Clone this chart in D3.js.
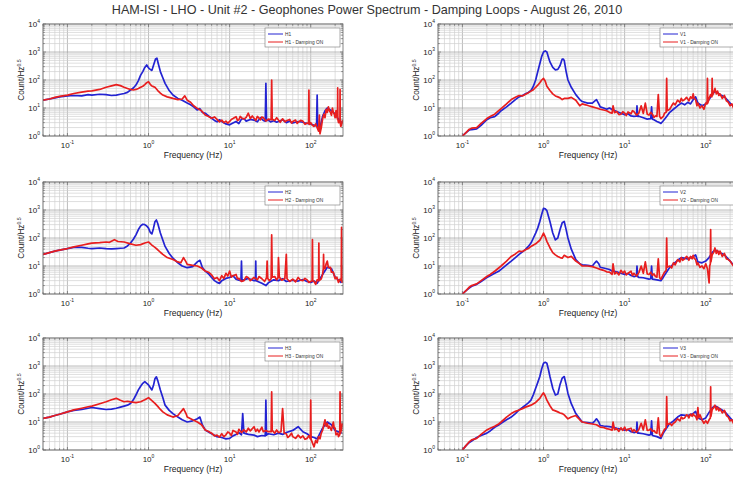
<!DOCTYPE html>
<html>
<head>
<meta charset="utf-8">
<script src="https://cdn.jsdelivr.net/npm/d3@7"></script>
<style>
  body { margin: 0; background: #fff; }
  svg { display: block; font-family: "Liberation Sans", Arial, sans-serif; }
</style>
</head>
<body>
<svg id="chart" width="733" height="479"></svg>
<script>
var chartTitle = "HAM-ISI - LHO - Unit #2 - Geophones Power Spectrum - Damping Loops - August 26, 2010";
var xTicks = [ 0.1, 1, 10, 100 ];
var yTicks = [ 1, 10, 100, 1000, 10000 ];
var xDomain = [ 0.05, 250 ];
var yDomain = [ 1, 10000 ];

// [frequency Hz, counts/Hz^0.5]
var h1 = [[0.05,19],[0.06,21],[0.07,23],[0.08,25],[0.1,27],[0.12,28],[0.15,27],[0.18,30],[0.2,29],[0.25,31],[0.3,30],[0.35,28],[0.4,29],[0.45,31],[0.5,33],[0.55,36],[0.6,44],[0.65,52],[0.7,66],[0.75,95],[0.8,150],[0.85,200],[0.9,280],[0.95,345],[1.0,270],[1.05,240],[1.1,220],[1.15,330],[1.22,560],[1.27,600],[1.32,380],[1.4,200],[1.5,120],[1.6,76],[1.8,42],[2.0,29],[2.3,22],[2.6,19],[3.0,15],[3.3,13],[3.6,11],[4.0,8.5],[4.3,9.5],[4.6,7],[5.0,6.5],[5.5,5.2],[6.0,4.3],[6.5,3.6],[7,3.2],[7.5,3.8],[8,3.3],[9,2.7],[10,2.5],[11,2.9],[12,3.3],[13,2.8],[14,4],[15,4.2],[16,3.4],[18,3.9],[20,3.7],[22,3.2],[24,4.5],[26,3.6],[27.5,3.4],[28,76],[28.5,3.6],[30,3.7],[32,3.2],[35,3.5],[38,3.1],[40,3.3],[45,3.8],[50,3.0],[55,3.4],[60,2.9],[70,3.3],[80,3.1],[90,2.8],[100,2.7],[110,2.4],[118,2.3],[120,29],[122,2.2],[130,2.0],[140,5],[150,8],[160,10],[180,8],[200,6],[220,4],[240,3]];
var h1Damped = [[0.05,19],[0.06,21],[0.07,24],[0.08,26],[0.1,29],[0.12,33],[0.15,37],[0.18,40],[0.2,41],[0.25,46],[0.3,55],[0.35,62],[0.4,68],[0.45,63],[0.5,55],[0.55,50],[0.6,46],[0.65,44],[0.7,46],[0.75,50],[0.8,55],[0.85,60],[0.9,68],[0.95,80],[1.0,87],[1.05,70],[1.1,61],[1.15,58],[1.2,55],[1.3,42],[1.4,34],[1.5,29],[1.7,25],[2.0,22],[2.3,20],[2.6,21],[2.8,27],[3.0,19],[3.3,16],[3.6,12],[4.0,9.7],[4.5,8],[5.0,5.6],[5.5,5],[6,4.3],[6.5,4.8],[7,3.9],[7.5,3.2],[8,3.7],[8.5,3.0],[9,3.4],[9.5,2.9],[10,3.3],[10.5,3.9],[11,4.2],[12,4.9],[12.5,3.6],[13,3.8],[13.5,5],[14,4.5],[15,4.0],[16,4.6],[17,6.5],[18,4.2],[19,5.2],[20,4.3],[21,3.6],[22,5],[24,3.8],[25,4.8],[26,4.6],[28,3.4],[30,4.0],[32.5,3.8],[33,100],[33.5,4],[36,3.6],[38,4.5],[40,3.7],[42,3.1],[45,4.1],[48,3.2],[50,3.5],[55,3.9],[58,2.9],[60,3.3],[65,3.7],[68,2.8],[70,3.1],[75,3.6],[80,3.4],[85,2.6],[90,2.9],[94,2.8],[95,44],[96,2.6],[100,3.0],[105,2.4],[110,2.2],[115,2.7],[120,2.0],[125,1.5],[128,5.6],[130,1.2],[135,2.0],[140,4],[145,6],[150,4.5],[155,9],[160,7],[165,11],[170,8],[175,7],[180,5.5],[185,10],[190,7],[195,6],[200,4.5],[205,8],[210,5],[214,4],[215,52],[216,4],[220,3],[225,3.5],[229,3],[230,46],[231,3],[235,2.2],[240,2.5],[245,3.5],[250,2.8]];

var h2 = [[0.05,26],[0.06,30],[0.07,34],[0.08,37],[0.1,42],[0.12,46],[0.15,46],[0.18,43],[0.2,42],[0.25,44],[0.3,42],[0.35,41],[0.4,42],[0.45,43],[0.5,44],[0.55,52],[0.6,66],[0.65,90],[0.7,130],[0.75,200],[0.8,270],[0.85,310],[0.9,300],[0.95,270],[1.0,225],[1.05,160],[1.1,140],[1.15,220],[1.2,380],[1.25,440],[1.3,330],[1.4,150],[1.5,85],[1.6,50],[1.8,28],[2.0,19],[2.3,13],[2.6,10],[3.0,8.7],[3.5,9.5],[4.0,14],[4.3,16],[4.6,9],[5.0,6.6],[5.5,5.2],[6,3.9],[6.5,3],[7,2.6],[7.5,2.4],[8,3],[9,3.6],[10,3.9],[11,4.5],[12,3.4],[13,3.1],[13.8,3],[14,15],[14.2,3],[15,3.2],[17,3.6],[20,3],[20.8,3],[21,15],[21.2,3],[23,2.7],[25,2.4],[28,2.0],[30,2.5],[35,3.2],[40,3.0],[45,3.5],[50,2.8],[60,3.1],[70,2.9],[80,3.3],[90,2.8],[100,2.6],[110,2.9],[120,2.4],[140,5],[160,9],[180,8],[200,4],[240,2.5]];
var h2Damped = [[0.05,26],[0.06,30],[0.07,34],[0.08,37],[0.1,42],[0.12,48],[0.15,55],[0.18,62],[0.2,66],[0.25,68],[0.3,72],[0.33,70],[0.38,87],[0.42,75],[0.5,72],[0.6,62],[0.7,55],[0.8,58],[0.9,66],[1.0,72],[1.1,56],[1.2,46],[1.3,38],[1.4,31],[1.5,26],[1.7,20],[2.0,17],[2.3,14],[2.5,13],[2.7,20],[2.9,14],[3.0,11.5],[3.5,10.5],[4.0,10],[4.5,8.5],[5.0,6.6],[5.5,6],[6,4.8],[6.5,3.5],[7,3.9],[7.5,3.0],[8,4.5],[8.5,3.6],[9,5.5],[9.5,4.4],[10,6.6],[10.5,4],[11,4.5],[12,5],[12.5,3.5],[13,3.6],[14,2.8],[15,3],[16,4.2],[17,3.8],[18,3.0],[20,3.9],[22,3.2],[23,4.2],[25,3.5],[27,2.8],[28.5,3.8],[29,15],[29.5,3.6],[31,3.0],[32.5,3.5],[33,130],[33.5,4],[36,4.2],[38,3.2],[39.5,3.8],[40,20],[41,4],[44,3.1],[48,3.6],[50,26],[51,3.5],[55,2.8],[60,3.4],[65,2.7],[70,3.9],[75,3.1],[80,3.0],[85,3.6],[90,3.2],[95,2.6],[104,3],[105,87],[106,3],[110,2.8],[115,2.2],[120,3.2],[125,3],[126,66],[127,3],[135,3.5],[140,5],[143,8],[144,26],[145,8],[150,8],[155,12],[160,15],[165,9],[175,9],[180,6],[190,6],[200,3.5],[210,4],[220,2.6],[230,3.4],[238,3],[240,240],[242,3],[245,2.5]];

var h3 = [[0.05,13.5],[0.06,15],[0.07,17],[0.08,19],[0.1,23],[0.12,26],[0.15,28],[0.18,31],[0.2,33],[0.25,30],[0.3,28],[0.35,29],[0.4,31],[0.45,34],[0.5,37],[0.55,40],[0.6,46],[0.65,62],[0.7,92],[0.75,140],[0.8,190],[0.85,240],[0.9,275],[0.95,240],[1.0,210],[1.05,170],[1.1,140],[1.15,200],[1.2,350],[1.25,410],[1.3,300],[1.4,140],[1.5,75],[1.6,40],[1.8,26],[2.0,20],[2.3,15],[2.6,12],[3.0,10],[3.5,11],[4.0,13],[4.3,15],[4.6,8],[5.0,5.2],[5.5,4.4],[6,3.8],[7,3.0],[8,2.8],[9,2.5],[10,2.6],[11,3.2],[12,3.6],[13,4.2],[14,3.5],[14.5,20],[15,4],[17,3.6],[20,3.4],[22,3],[25,3.3],[27.5,3.2],[28,60],[28.5,3.4],[30,3.8],[35,3.5],[40,4],[45,3.6],[50,4.2],[60,5],[70,6.8],[80,4.5],[90,3.8],[100,3],[110,2.8],[120,2.5],[140,6],[160,10],[180,8],[200,5],[240,4]];
var h3Damped = [[0.05,13.5],[0.06,15],[0.07,17],[0.08,19],[0.1,23],[0.12,27],[0.15,31],[0.18,35],[0.2,37],[0.25,45],[0.3,53],[0.35,62],[0.4,70],[0.45,60],[0.5,53],[0.55,55],[0.6,52],[0.7,49],[0.8,53],[0.9,62],[1.0,74],[1.1,58],[1.2,46],[1.3,36],[1.4,28],[1.5,23],[1.7,18],[2.0,15],[2.3,17],[2.7,30],[2.9,20],[3.0,15],[3.5,12],[4.0,10],[4.5,8],[5.0,5.2],[5.5,4.6],[6,4.0],[6.5,3.2],[7,3.4],[7.5,2.9],[8,3.8],[8.5,3.0],[9,3.5],[9.5,4.4],[10,4],[10.5,3.3],[11,5],[12,4.4],[12.5,3.6],[13,5.5],[14,4.2],[15,5.2],[16,4.4],[17,6],[18,4.8],[20,6.8],[21,4.6],[22,5.5],[23,4.4],[25,6.5],[26,4.5],[28,5],[30,4.5],[32.5,4.5],[33,120],[33.5,5],[36,4],[38,5.2],[40,4.2],[43,4.5],[45,30],[47,4],[50,3.8],[52,2.8],[55,3.2],[58,4],[60,3.0],[65,2.6],[70,3.4],[75,2.7],[80,3.2],[85,2.4],[90,2.6],[95,3.2],[99,2.5],[100,60],[101,2.4],[105,1.8],[110,1.3],[115,2.2],[120,1.8],[125,3],[130,2.5],[135,4],[140,5],[145,8],[150,12],[155,7],[160,9],[165,6],[170,7],[180,5],[190,10],[195,6],[200,6],[205,3.5],[215,4],[220,3],[228,3.5],[230,120],[232,4],[238,5],[245,9]];

var v1 = [[0.1,1.0],[0.11,1.3],[0.12,1.6],[0.13,1.7],[0.15,1.8],[0.17,2.4],[0.2,3.8],[0.22,4.5],[0.25,4.9],[0.28,6.5],[0.3,8],[0.35,11],[0.4,15],[0.45,20],[0.5,25],[0.55,28],[0.6,32],[0.65,36],[0.7,42],[0.75,60],[0.8,100],[0.85,200],[0.9,380],[0.95,700],[1.0,1000],[1.05,1100],[1.1,1000],[1.15,650],[1.2,440],[1.3,280],[1.4,230],[1.5,240],[1.6,330],[1.7,560],[1.75,560],[1.8,500],[1.9,200],[2.0,100],[2.2,55],[2.5,30],[2.8,20],[3.0,17],[3.5,15],[4.0,15],[4.3,18],[4.5,20],[4.8,14],[5,11],[5.5,10],[6,9],[6.5,10],[7,8.8],[8,7.5],[9,6.5],[10,5.8],[11,6.2],[12,5.2],[13,5],[14,5.1],[14.2,12],[14.5,5],[15,5.1],[17,4.5],[19,4],[21,4.2],[21.5,11],[22,4],[23,3.8],[25,3.3],[27,3.0],[28,2.8],[30,3.5],[33,5],[36,7],[40,9],[45,12],[50,15],[55,13],[60,16],[65,14],[70,20],[75,25],[80,15],[90,12],[100,14],[110,20],[120,30],[130,40],[140,35],[150,30],[170,25],[200,15],[240,9]];
var v1Damped = [[0.1,1.0],[0.11,1.3],[0.12,1.7],[0.13,1.9],[0.15,2.0],[0.17,2.8],[0.2,4.2],[0.22,5],[0.25,6],[0.28,8],[0.3,9.5],[0.35,14],[0.4,20],[0.45,24],[0.5,28],[0.55,27],[0.6,31],[0.65,35],[0.7,40],[0.75,45],[0.8,55],[0.85,65],[0.9,80],[0.95,100],[1.0,115],[1.05,90],[1.1,60],[1.2,42],[1.3,32],[1.4,27],[1.5,25],[1.6,23],[1.7,20],[1.8,22],[2.0,22],[2.2,24],[2.5,19],[2.8,12],[3.0,14],[3.3,13],[3.6,12],[4,11],[4.5,10],[5,9],[5.5,8.5],[6,8],[6.5,7],[7,6.5],[7.2,12],[7.5,6.8],[8,7.5],[8.5,5.8],[9,6],[9.5,7.4],[10,6.6],[10.5,5.4],[11,7.2],[12,6.2],[12.5,8],[13,7.5],[14,5.6],[15,6.6],[16,12],[17,6.4],[18,15],[19,6],[20,5.6],[21,7],[22,6],[23,4.6],[24,5.2],[25,5],[26,30],[27,5],[28,4.2],[30,5],[31,6.5],[32.5,7],[33,115],[33.5,8],[36,9],[38,12],[40,15],[42,13],[45,19],[48,16],[50,22],[52,18],[55,20],[58,24],[60,21],[62,18],[65,25],[68,22],[70,32],[72,22],[75,20],[78,12],[80,15],[85,10],[90,12],[95,9],[100,15],[104,14],[105,115],[106,15],[110,22],[115,30],[119,25],[120,115],[121,28],[125,35],[130,50],[135,32],[140,40],[145,28],[150,32],[160,22],[170,28],[180,18],[190,16],[200,12],[210,14],[220,10],[235,9],[250,8]];

var v2 = [[0.1,1.0],[0.11,1.3],[0.12,1.6],[0.13,1.9],[0.15,2.2],[0.17,2.8],[0.2,3.9],[0.22,4.5],[0.25,5.5],[0.28,6.5],[0.3,7.6],[0.35,11],[0.4,15],[0.45,20],[0.5,26],[0.55,32],[0.6,39],[0.65,50],[0.7,66],[0.75,100],[0.8,150],[0.85,230],[0.9,390],[0.95,700],[1.0,1150],[1.05,1100],[1.1,950],[1.15,600],[1.2,390],[1.3,150],[1.4,86],[1.5,100],[1.6,200],[1.7,350],[1.8,390],[1.9,200],[2.0,100],[2.2,40],[2.5,17],[2.8,12],[3.0,11],[3.5,10.5],[4.0,10],[4.3,13],[4.5,15],[4.8,12],[5,9],[5.5,8.5],[6,8],[6.5,7.5],[7,6.6],[8,6.2],[9,5.5],[10,5],[11,5.4],[12,4.6],[13,4.2],[14,4.4],[14.2,10],[14.5,4.2],[15,3.9],[17,3.8],[20,3.4],[21,3.5],[21.5,10],[22,3.4],[25,3.2],[28,3],[30,4],[35,8],[40,12],[45,16],[50,20],[60,18],[70,22],[75,25],[80,14],[90,13],[100,15],[110,20],[120,30],[130,38],[150,30],[170,25],[200,15],[240,8]];
var v2Damped = [[0.1,1.0],[0.11,1.3],[0.12,1.7],[0.13,2.0],[0.15,2.3],[0.17,3.0],[0.2,4.2],[0.22,5],[0.25,6.5],[0.28,8.5],[0.3,10],[0.35,15],[0.4,22],[0.45,27],[0.5,34],[0.55,33],[0.6,38],[0.65,42],[0.7,50],[0.8,62],[0.9,83],[0.95,110],[1.0,150],[1.05,110],[1.1,76],[1.2,45],[1.3,30],[1.4,25],[1.5,22],[1.6,20],[1.7,19],[1.8,24],[2.0,20],[2.2,22],[2.5,15],[2.8,12],[3.0,10],[3.5,10],[4,9.5],[4.5,8.5],[5,7.6],[5.5,7],[6,6.2],[6.5,6],[7,5],[7.2,12],[7.5,5.2],[8,6],[8.5,4.8],[9,7],[9.5,5.6],[10,6.6],[10.5,4.8],[11,5.5],[12,6.5],[12.5,4.6],[13,5.5],[14,4.4],[15,5.8],[16,10],[17,5.5],[18,14],[19,5.2],[20,5],[21,6],[22,4.6],[23,5.2],[24,4.2],[25,4],[26,18],[27,3.8],[28,3.4],[30,5],[31,6],[32.5,7],[33,100],[33.5,9],[36,10],[38,8.5],[40,13],[42,11],[45,17],[48,14],[50,20],[52,16],[55,18],[58,22],[60,20],[62,16],[65,22],[68,18],[70,24],[72,19],[75,17],[78,11],[80,13],[85,9],[90,10],[95,8],[100,12],[105,8],[110,2.5],[112,10],[114,12],[115,200],[116,14],[120,25],[125,30],[130,44],[135,28],[140,36],[145,26],[150,34],[160,22],[170,28],[180,18],[190,17],[200,15],[210,12],[220,10],[235,8],[250,7]];

var v3 = [[0.1,1.0],[0.11,1.4],[0.12,1.8],[0.13,2.1],[0.15,2.8],[0.17,3.3],[0.2,4],[0.22,4.8],[0.25,6.5],[0.28,7.8],[0.3,9],[0.35,12],[0.4,15],[0.45,20],[0.5,27],[0.55,33],[0.6,40],[0.65,48],[0.7,60],[0.75,95],[0.8,160],[0.85,260],[0.9,420],[0.95,800],[1.0,1250],[1.05,1350],[1.1,1250],[1.15,750],[1.2,420],[1.3,160],[1.4,92],[1.5,100],[1.6,220],[1.7,370],[1.8,420],[1.9,220],[2.0,105],[2.2,45],[2.5,20],[2.8,13],[3.0,10],[3.5,9.5],[4.0,9],[4.3,11],[4.5,13],[4.8,10],[5,7.5],[5.5,7.2],[6,7],[6.5,6.8],[7,6.6],[8,6],[9,5.6],[10,5.1],[11,5.4],[12,4.5],[13,4.2],[14,4.4],[14.2,10],[14.5,4],[15,4],[17,3.8],[20,3.4],[21,3.6],[21.5,11],[22,3.3],[25,3],[28,2.6],[30,4],[35,8],[40,11],[45,15],[50,18],[60,17],[70,20],[75,24],[80,14],[90,12],[100,14],[110,22],[120,32],[130,38],[150,30],[170,24],[200,14],[240,8]];
var v3Damped = [[0.1,1.0],[0.11,1.4],[0.12,1.9],[0.13,2.3],[0.15,2.6],[0.17,3.6],[0.2,5.2],[0.22,6],[0.25,7],[0.28,8.5],[0.3,10],[0.35,15],[0.4,20],[0.45,24],[0.5,27],[0.55,30],[0.6,34],[0.65,37],[0.7,40],[0.8,50],[0.9,70],[0.95,90],[1.0,110],[1.05,85],[1.1,60],[1.2,38],[1.3,27],[1.4,25],[1.5,23],[1.6,21],[1.7,20],[1.8,18],[2.0,13],[2.2,15],[2.5,17],[2.8,12],[3.0,10],[3.5,9],[4,8.5],[4.5,8],[5,6.6],[5.5,6.4],[6,5.8],[6.5,5.5],[7,5.1],[7.2,10],[7.5,5.3],[8,5.8],[8.5,4.6],[9,6.2],[9.5,5],[10,6.6],[10.5,4.9],[11,5.5],[12,6],[12.5,4.5],[13,5.3],[14,4.3],[15,5.4],[16,9],[17,5.2],[18,12],[19,5],[20,5.1],[21,5.8],[22,4.6],[23,5],[24,4.2],[25,4],[26,14],[27,3.6],[28,3],[30,4.5],[31,5.5],[32.5,6],[33,80],[33.5,8],[36,9],[38,7.5],[40,9],[42,10],[45,13],[48,11],[50,15],[52,13],[55,14],[58,18],[60,17],[62,14],[65,19],[68,16],[70,20],[72,17],[75,16],[78,12],[80,33],[82,14],[85,18],[90,12],[95,9],[100,11],[105,9],[110,12],[114,14],[115,180],[116,16],[120,28],[125,32],[130,40],[135,27],[140,34],[145,25],[150,30],[160,21],[170,26],[180,17],[190,15],[200,11],[210,12],[220,9],[235,8],[250,7]];

var panelNames = [ "H1", "H2", "H3", "V1", "V2", "V3" ];
var offSeries = [ h1, h2, h3, v1, v2, v3 ];
var onSeries = [ h1Damped, h2Damped, h3Damped, v1Damped, v2Damped, v3Damped ];

var svg = d3.select( "#chart" );
var panelW = 300, panelH = 112;
var lefts = [ 43, 438 ], tops = [ 24, 182, 338 ];
var blue = "#2323d2", red = "#e81e1e";

svg.append( "text" )
    .attr( "x", 367 ).attr( "y", 14 )
    .attr( "text-anchor", "middle" )
    .attr( "font-size", 12.6 )
    .attr( "fill", "#333" )
    .text( chartTitle );

function powLabel( sel, exp, size ) {
    sel.append( "tspan" ).text( "10" );
    sel.append( "tspan" )
        .attr( "dy", -size * 0.45 )
        .attr( "font-size", size * 0.62 )
        .text( exp );
}

function minorValues( domain ) {
    var out = [];
    for ( var d = -2; d <= 4; d++ ) {
        for ( var k = 1; k <= 9; k++ ) {
            var v = k * Math.pow( 10, d );
            if ( v >= domain[ 0 ] && v <= domain[ 1 ] ) out.push( { v: v, major: k === 1 } );
        }
    }
    return out;
}

function drawPanel( i ) {
    var x0 = lefts[ Math.floor( i / 3 ) ], y0 = tops[ i % 3 ];
    var g = svg.append( "g" ).attr( "transform", "translate(" + x0 + "," + y0 + ")" );
    var x = d3.scaleLog().domain( xDomain ).range( [ 0, panelW ] );
    var y = d3.scaleLog().domain( yDomain ).range( [ panelH, 0 ] );

    g.append( "rect" ).attr( "width", panelW ).attr( "height", panelH ).attr( "fill", "#fff" );

    var gx = minorValues( xDomain ), gy = minorValues( yDomain );
    g.selectAll( ".vgrid" ).data( gx ).enter().append( "line" )
        .attr( "x1", function( d ) { return x( d.v ); } )
        .attr( "x2", function( d ) { return x( d.v ); } )
        .attr( "y1", 0 ).attr( "y2", panelH )
        .attr( "stroke", function( d ) { return d.major ? "#a0a0a0" : "#d0d0d0"; } )
        .attr( "stroke-width", 0.7 );
    g.selectAll( ".hgrid" ).data( gy ).enter().append( "line" )
        .attr( "y1", function( d ) { return y( d.v ); } )
        .attr( "y2", function( d ) { return y( d.v ); } )
        .attr( "x1", 0 ).attr( "x2", panelW )
        .attr( "stroke", function( d ) { return d.major ? "#a0a0a0" : "#d0d0d0"; } )
        .attr( "stroke-width", 0.7 );

    // inner tick marks on all four sides
    var tk = g.append( "g" ).attr( "stroke", "#555" ).attr( "stroke-width", 0.6 );
    gx.forEach( function( d ) {
        var l = d.major ? 3 : 1.8;
        tk.append( "line" ).attr( "x1", x( d.v ) ).attr( "x2", x( d.v ) ).attr( "y1", panelH ).attr( "y2", panelH - l );
        tk.append( "line" ).attr( "x1", x( d.v ) ).attr( "x2", x( d.v ) ).attr( "y1", 0 ).attr( "y2", l );
    });
    gy.forEach( function( d ) {
        var l = d.major ? 3 : 1.8;
        tk.append( "line" ).attr( "y1", y( d.v ) ).attr( "y2", y( d.v ) ).attr( "x1", 0 ).attr( "x2", l );
        tk.append( "line" ).attr( "y1", y( d.v ) ).attr( "y2", y( d.v ) ).attr( "x1", panelW ).attr( "x2", panelW - l );
    });

    var clipId = "clip" + i;
    g.append( "clipPath" ).attr( "id", clipId )
        .append( "rect" ).attr( "width", panelW ).attr( "height", panelH );

    var line = d3.line()
        .x( function( d ) { return x( d[ 0 ] ); } )
        .y( function( d ) { return y( Math.max( d[ 1 ], 0.5 ) ); } );

    var lines = g.append( "g" ).attr( "clip-path", "url(#" + clipId + ")" );
    lines.append( "path" ).attr( "d", line( offSeries[ i ] ) )
        .attr( "fill", "none" ).attr( "stroke", blue ).attr( "stroke-width", 1.7 )
        .attr( "stroke-linejoin", "round" );
    lines.append( "path" ).attr( "d", line( onSeries[ i ] ) )
        .attr( "fill", "none" ).attr( "stroke", red ).attr( "stroke-width", 1.7 )
        .attr( "stroke-linejoin", "round" );

    g.append( "rect" ).attr( "width", panelW ).attr( "height", panelH )
        .attr( "fill", "none" ).attr( "stroke", "#666" ).attr( "stroke-width", 0.8 );

    xTicks.forEach( function( t ) {
        var lab = g.append( "text" )
            .attr( "x", x( t ) ).attr( "y", panelH + 12 )
            .attr( "text-anchor", "middle" ).attr( "font-size", 8 ).attr( "fill", "#222" );
        powLabel( lab, Math.round( Math.log10( t ) ), 8 );
    });
    yTicks.forEach( function( t ) {
        var lab = g.append( "text" )
            .attr( "x", -3 ).attr( "y", y( t ) + 3 )
            .attr( "text-anchor", "end" ).attr( "font-size", 8 ).attr( "fill", "#222" );
        powLabel( lab, Math.round( Math.log10( t ) ), 8 );
    });

    g.append( "text" )
        .attr( "x", panelW / 2 ).attr( "y", panelH + 22 )
        .attr( "text-anchor", "middle" ).attr( "font-size", 8.5 ).attr( "fill", "#222" )
        .text( "Frequency (Hz)" );

    var yl = g.append( "text" )
        .attr( "transform", "translate(-19," + ( panelH / 2 ) + ") rotate(-90)" )
        .attr( "text-anchor", "middle" ).attr( "font-size", 8.2 ).attr( "fill", "#222" );
    yl.append( "tspan" ).text( "Count/Hz" );
    yl.append( "tspan" ).attr( "dy", -3.5 ).attr( "font-size", 5.2 ).text( "0.5" );

    drawLegend( g, panelNames[ i ] );
}

function drawLegend( g, name ) {
    var lg = g.append( "g" ).attr( "transform", "translate(" + ( panelW - 78 ) + ",4)" );
    lg.append( "rect" ).attr( "width", 75 ).attr( "height", 19 )
        .attr( "fill", "#fff" ).attr( "stroke", "#777" ).attr( "stroke-width", 0.6 );
    [ [ name, blue ], [ name + " - Damping ON", red ] ].forEach( function( e, k ) {
        var yy = 6 + k * 8;
        lg.append( "line" ).attr( "x1", 3 ).attr( "x2", 18 ).attr( "y1", yy ).attr( "y2", yy )
            .attr( "stroke", e[ 1 ] ).attr( "stroke-width", 1 );
        lg.append( "text" ).attr( "x", 20 ).attr( "y", yy + 1.8 )
            .attr( "font-size", 4.8 ).attr( "fill", "#333" ).text( e[ 0 ] );
    });
}

for ( var i = 0; i < 6; i++ ) drawPanel( i );
</script>
</body>
</html>
